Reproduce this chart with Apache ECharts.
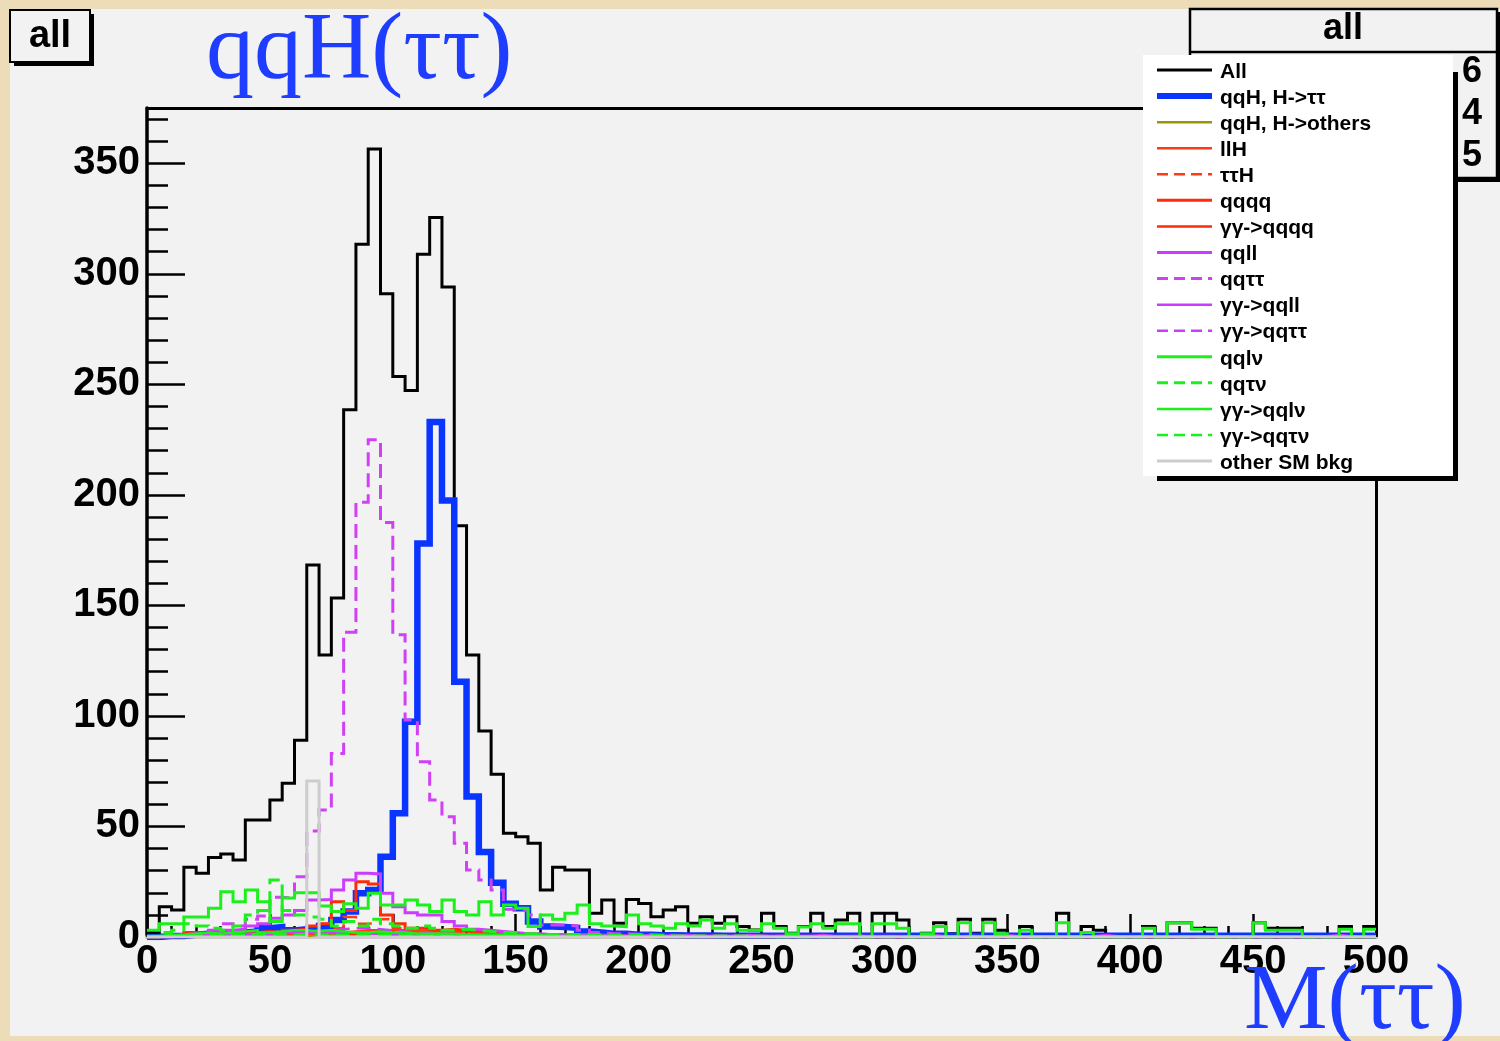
<!DOCTYPE html>
<html>
<head>
<meta charset="utf-8">
<title>qqH(ττ) M(ττ)</title>
<script src="https://cdn.jsdelivr.net/npm/echarts@6/dist/echarts.min.js"></script>
<style>
  html, body { margin: 0; padding: 0; background: #ecdcb8; }
  #chart { width: 1500px; height: 1041px; }
</style>
</head>
<body>
<div id="chart"></div>
<script>
// M(tau tau) histograms, 100 bins of 5 GeV from 0 to 500
const BIN_WIDTH = 5;
const X_MIN = 0, X_MAX = 500;
const Y_MIN = 0, Y_MAX = 375;

const allEvents = [
  2, 13.7, 12.2, 31.5, 28.8, 36, 37.5, 34.8, 52.9, 52.9,
  62, 69.5, 89, 168.3, 127.6, 153.3, 238.5, 313.4, 356.4, 291,
  253.5, 247.2, 308.9, 325.5, 294, 186, 127.6, 93.2, 73.6, 46.9,
  45.4, 42.4, 21.3, 31.5, 30.3, 30.3, 10.7, 16.7, 6.2, 17,
  15.2, 9.2, 12.2, 13.7, 6.2, 9.2, 6.2, 9.2, 4.7, 3.2,
  10.7, 4.7, 1.7, 4.7, 10.7, 4.7, 7.7, 10.7, 0, 10.7,
  10.7, 7.7, 0, 1.7, 6.5, 1.5, 8, 1.7, 8, 3,
  0, 4.7, 0, 0, 10.7, 0, 4.7, 3, 0, 0,
  0, 4.7, 0, 6.5, 6.5, 4, 4, 0, 0, 0,
  6.5, 4, 4, 4, 0, 0, 0, 4.7, 0, 4.7
];
const qqH_tautau = [
  0, 0.5, 0.5, 1, 1.5, 1.5, 2, 2, 2.5, 4,
  4.5, 3, 3.5, 3.9, 5, 7.7, 11.5, 19.8, 21.3, 36.3,
  56, 97.4, 178, 233, 197.4, 115.5, 63.5, 38.5, 24.5, 15,
  13, 7, 4.7, 4.5, 4.2, 2.5, 2, 1.5, 1.5, 1,
  1, 0.8, 0.8, 0.7, 0.7, 0.7, 0.6, 0.6, 0.6, 0.6,
  0.6, 0.6, 0.6, 0.6, 0.6, 0.6, 0.6, 0.6, 0.6, 0.6,
  0.6, 0.6, 0.6, 0.6, 0.6, 0.6, 0.6, 0.6, 0.6, 0.6,
  0.6, 0.6, 0.6, 0.6, 0.6, 0.6, 0.6, 0.6, 0.6, 0.6,
  0.6, 0.6, 0.6, 0.6, 0.6, 0.6, 0.6, 0.6, 0.6, 0.6,
  0.6, 0.6, 0.6, 0.6, 0.6, 0.6, 0.6, 0.6, 0.6, 0.6
];
const qqH_others = [
  0, 0, 0, 0, 0, 0, 0, 0, 1.8, 1,
  1.8, 1.5, 0.5, 1, 1, 1, 1, 1.5, 1.5, 1.5,
  1.5, 2, 2, 2, 1.5, 1, 1, 0.5, 0.5, 0.3,
  0, 0, 0, 0, 0, 0, 0, 0, 0, 0,
  0, 0, 0, 0, 0, 0, 0, 0, 0, 0,
  0, 0, 0, 0, 0, 0, 0, 0, 0, 0,
  0, 0, 0, 0, 0, 0, 0, 0, 0, 0,
  0, 0, 0, 0, 0, 0, 0, 0, 0, 0,
  0, 0, 0, 0, 0, 0, 0, 0, 0, 0,
  0, 0, 0, 0, 0, 0, 0, 0, 0, 0
];
const llH = [
  0, 0, 0, 0.3, 0.3, 0.5, 0.5, 0.5, 0.8, 0.8,
  1, 1, 1.5, 1.5, 2, 2, 2.5, 3, 3, 3,
  3, 2.5, 3, 3, 2.5, 2.5, 2, 2, 1.5, 1.5,
  1, 1, 1, 0.8, 0.8, 0.5, 0.5, 0.5, 0.3, 0.3,
  0, 0, 0, 0, 0, 0, 0, 0, 0, 0,
  0, 0, 0, 0, 0, 0, 0, 0, 0, 0,
  0, 0, 0, 0, 0, 0, 0, 0, 0, 0,
  0, 0, 0, 0, 0, 0, 0, 0, 0, 0,
  0, 0, 0, 0, 0, 0, 0, 0, 0, 0,
  0, 0, 0, 0, 0, 0, 0, 0, 0, 0
];
const tautauH = [
  0, 0, 0.5, 0.5, 0.5, 1, 1, 1, 1.5, 1.5,
  2, 2, 2.5, 3, 3, 4, 9, 6, 6.5, 8,
  4, 4, 3, 3, 2.5, 2, 2, 1.5, 1.5, 1,
  1, 1, 0.8, 0.8, 0.5, 0.5, 0.5, 0.5, 0.3, 0.3,
  0, 0, 0, 0, 0, 0, 0, 0, 0, 0,
  0, 0, 0, 0, 0, 0, 0, 0, 0, 0,
  0, 0, 0, 0, 0, 0, 0, 0, 0, 0,
  0, 0, 0, 0, 0, 0, 0, 0, 0, 0,
  0, 0, 0, 0, 0, 0, 0, 0, 0, 0,
  0, 0, 0, 0, 0, 0, 0, 0, 0, 0
];
const qqqq = [
  0, 0.5, 1, 2, 1.5, 1, 2, 1.5, 2, 2.5,
  2, 3, 3.5, 5, 6, 16, 12, 25, 24, 10,
  6, 4, 4, 3, 3.5, 3, 2.5, 2, 2, 1.5,
  1.5, 1, 1, 1, 0.8, 0.8, 0.5, 0.5, 0.5, 0.5,
  0.3, 0.3, 0.3, 0.3, 0.3, 0.3, 0.3, 0.3, 0.3, 0.3,
  0.3, 0.3, 0.3, 0.3, 0.3, 0, 0, 0, 0, 0,
  0, 0, 0, 0, 0, 0, 0, 0, 0, 0,
  0, 0, 0, 0, 0, 0, 0, 0, 0, 0,
  0, 0, 0, 0, 0, 0, 0, 0, 0, 0,
  0, 0, 0, 0, 0, 0, 0, 0, 0, 0
];
const aa_qqqq = [
  0, 0.5, 1, 1, 1.5, 1.5, 1, 1.5, 2, 2,
  2, 2.5, 2, 2, 2, 1.5, 1.5, 1.5, 1.5, 1,
  1, 1, 1, 0.8, 0.8, 0.5, 0.5, 0.5, 0.5, 0.3,
  0, 0, 0, 0, 0, 0, 0, 0, 0, 0,
  0, 0, 0, 0, 0, 0, 0, 0, 0, 0,
  0, 0, 0, 0, 0, 0, 0, 0, 0, 0,
  0, 0, 0, 0, 0, 0, 0, 0, 0, 0,
  0, 0, 0, 0, 0, 0, 0, 0, 0, 0,
  0, 0, 0, 0, 0, 0, 0, 0, 0, 0,
  0, 0, 0, 0, 0, 0, 0, 0, 0, 0
];
const qqll = [
  0, 0, 0.5, 1, 1.5, 2, 3, 3.5, 5, 6,
  8.5, 10, 12, 16.7, 17, 21.3, 25.8, 28.8, 28.5, 19.8,
  13.7, 11, 10, 10, 7, 5, 3.5, 3, 2.5, 2,
  1.5, 1.5, 1, 1, 1, 1, 0.8, 0.8, 0.5, 0.5,
  0.8, 0.5, 0.5, 0.8, 0.5, 0.3, 0.5, 0.3, 0.8, 0.5,
  0.3, 0.5, 0.3, 0.3, 0.8, 0.3, 0.3, 0.5, 0.3, 0.3,
  0.3, 0.2, 0.3, 0.8, 0.2, 0.2, 0.3, 0.2, 0.2, 0.8,
  0.2, 0.2, 0.2, 0.2, 0.2, 0.2, 0.2, 0.8, 0.2, 0.2,
  0.2, 0.2, 0.2, 0.2, 0.2, 0.2, 0.2, 0.2, 0.2, 0.2,
  0.2, 0.2, 0.2, 0.2, 0.2, 0.2, 0.8, 0.2, 0.2, 0.2
];
const qqtautau = [
  0, 0.5, 1, 1.5, 2, 3, 6, 5, 8, 9.5,
  18, 17.6, 27.3, 48, 57.5, 83, 137.9, 196.7, 224.9, 187.5,
  136.7, 98.2, 79.3, 62, 54.4, 42.4, 30.3, 25.8, 21.3, 12.5,
  12, 10, 5.4, 5.4, 5, 3, 2, 1.5, 1.5, 1.2,
  1, 0.8, 0.8, 0.6, 0.5, 0.5, 0.5, 0.4, 0.3, 0.3,
  0.3, 0.2, 0, 0.3, 0, 0, 0.2, 0, 0, 0,
  0, 0, 0, 0, 0, 0, 0, 0, 0, 0,
  0, 0, 0, 0, 0, 0, 0, 0, 0, 0,
  0, 0, 0, 0, 0, 0, 0, 0, 0, 0,
  0, 0, 0, 0, 0, 0, 0, 0, 0, 0
];
const aa_qqll = [
  0, 0.3, 0.5, 0.5, 1, 1, 1, 1.5, 1.5, 1.5,
  2, 2, 2, 2, 2, 2, 2, 1.5, 1.5, 1.5,
  1, 1, 1, 0.8, 0.8, 0.5, 0.5, 0.5, 0.3, 0.3,
  0.3, 0.3, 0.3, 0.3, 0.3, 0.3, 0.3, 0.3, 0.3, 0.3,
  0, 0, 0, 0, 0, 0, 0, 0, 0, 0,
  0, 0, 0, 0, 0, 0, 0, 0, 0, 0,
  0, 0, 0, 0, 0, 0, 0, 0, 0, 0,
  0, 0, 0, 0, 0, 0, 0, 0, 0, 0,
  0, 0, 0, 0, 0, 0, 0, 0, 0, 0,
  0, 0, 0, 0, 0, 0, 0, 0, 0, 0
];
const aa_qqtautau = [
  0, 0, 0.3, 0.5, 0.5, 0.5, 1, 1, 1, 1.5,
  1.5, 2, 2, 2.5, 3, 3.5, 4, 4, 3.5, 3,
  2.5, 2, 2, 1.5, 1.5, 1, 1, 0.8, 0.5, 0.5,
  0.3, 0.3, 0.3, 0.3, 0.3, 0.3, 0.3, 0.3, 0.3, 0.3,
  0, 0, 0, 0, 0, 0, 0, 0, 0, 0,
  0, 0, 0, 0, 0, 0, 0, 0, 0, 0,
  0, 0, 0, 0, 0, 0, 0, 0, 0, 0,
  0, 0, 0, 0, 0, 0, 0, 0, 0, 0,
  0, 0, 0, 0, 0, 0, 0, 0, 0, 0,
  0, 0, 0, 0, 0, 0, 0, 0, 0, 0
];
const qqlv = [
  3, 6, 6, 9, 9, 13, 20.5, 16, 21.3, 16,
  7, 17.6, 20, 20, 14, 11.5, 15, 13, 19.8, 14.5,
  14.5, 16.7, 14.5, 11.5, 16.7, 11.5, 10, 16, 10, 14.5,
  13, 4.7, 10, 8, 10.7, 14.5, 6, 5, 4.7, 10,
  6, 5, 4, 6, 5, 7.7, 4, 6, 3, 3,
  6, 4, 1.5, 4.5, 6, 4, 6, 6, 0, 6,
  6, 4, 0, 1.5, 4.7, 0, 6.5, 0, 6.5, 1.5,
  0, 3, 0, 0, 6.5, 0, 2, 0, 0, 0,
  0, 4, 0, 6.5, 6.5, 3.5, 3.5, 0, 0, 0,
  6.5, 3, 3, 3, 0, 0, 0, 3.5, 0, 3.5
];
const qqtauv = [
  0, 2, 3, 6, 5, 4, 3, 5, 10, 12,
  25.8, 12, 10, 9, 8, 5, 7, 5, 8, 6,
  5, 4, 5, 4, 3, 3.5, 3, 2.5, 2, 2,
  1.5, 1.5, 1, 1, 1, 1, 1, 0.8, 0.8, 1,
  0.8, 0.8, 0.5, 0.5, 0.5, 0.5, 0.5, 0.5, 0.5, 0.3,
  0, 0, 0, 0, 0, 0, 0, 0, 0, 0,
  0, 0, 0, 0, 0, 0, 0, 0, 0, 0,
  0, 0, 0, 0, 0, 0, 0, 0, 0, 0,
  0, 0, 0, 0, 0, 0, 0, 0, 0, 0,
  0, 0, 0, 0, 0, 0, 0, 0, 0, 0
];
const aa_qqlv = [
  0.5, 1, 1, 1.5, 2, 1.5, 2, 2.5, 3, 2,
  2.5, 3, 3, 2.5, 3, 2.5, 2, 2, 2.5, 2,
  2, 1.5, 1.5, 1.5, 1.5, 1, 1, 1, 1, 0.8,
  0.8, 0.8, 0.5, 0.5, 0.5, 0.5, 0.5, 0.5, 0.3, 0.3,
  0, 0, 0, 0, 0, 0, 0, 0, 0, 0,
  0, 0, 0, 0, 0, 0, 0, 0, 0, 0,
  0, 0, 0, 0, 0, 0, 0, 0, 0, 0,
  0, 0, 0, 0, 0, 0, 0, 0, 0, 0,
  0, 0, 0, 0, 0, 0, 0, 0, 0, 0,
  0, 0, 0, 0, 0, 0, 0, 0, 0, 0
];
const aa_qqtauv = [
  0, 0.5, 0.5, 0.5, 1, 1, 1, 1, 1.5, 1,
  1.5, 1, 1.5, 1, 1, 1, 1, 1, 1, 1,
  0.8, 0.8, 0.5, 0.5, 0.5, 0.5, 0.5, 0.3, 0.3, 0.3,
  0, 0, 0, 0, 0, 0, 0, 0, 0, 0,
  0, 0, 0, 0, 0, 0, 0, 0, 0, 0,
  0, 0, 0, 0, 0, 0, 0, 0, 0, 0,
  0, 0, 0, 0, 0, 0, 0, 0, 0, 0,
  0, 0, 0, 0, 0, 0, 0, 0, 0, 0,
  0, 0, 0, 0, 0, 0, 0, 0, 0, 0,
  0, 0, 0, 0, 0, 0, 0, 0, 0, 0
];
const otherSM = [
  0, 0, 0, 0, 0, 0, 0, 0, 0, 0,
  0, 0, 0, 70.6, 0, 0, 0, 0, 0, 0,
  0, 0, 0, 0, 0, 0, 0, 0, 0, 0,
  0, 0, 0, 0, 0, 0, 0, 0, 0, 0,
  0, 0, 0, 0, 0, 0, 0, 0, 0, 0,
  0, 0, 0, 0, 0, 0, 0, 0, 0, 0,
  0, 0, 0, 0, 0, 0, 0, 0, 0, 0,
  0, 0, 0, 0, 0, 0, 0, 0, 0, 0,
  0, 0, 0, 0, 0, 0, 0, 0, 0, 0,
  0, 0, 0, 0, 0, 0, 0, 0, 0, 0
];

const xTickValues = [0, 50, 100, 150, 200, 250, 300, 350, 400, 450, 500];
const yTickValues = [0, 50, 100, 150, 200, 250, 300, 350];

// Legend entries, also the drawing order (later entries are drawn on top)
const legendEntries = [
  { name: 'All',              values: allEvents,   color: '#000000', width: 3,   dashed: false },
  { name: 'qqH, H->ττ',       values: qqH_tautau,  color: '#0a34ff', width: 6.5, dashed: false },
  { name: 'qqH, H->others',   values: qqH_others,  color: '#9c9606', width: 2.5, dashed: false },
  { name: 'llH',              values: llH,         color: '#ff3a14', width: 2.5, dashed: false },
  { name: 'ττH',              values: tautauH,     color: '#ff3a14', width: 2.5, dashed: true },
  { name: 'qqqq',             values: qqqq,        color: '#ff2a0a', width: 3,   dashed: false },
  { name: 'γγ->qqqq',         values: aa_qqqq,     color: '#ff2a0a', width: 2.5, dashed: false },
  { name: 'qqll',             values: qqll,        color: '#cc3cff', width: 3,   dashed: false },
  { name: 'qqττ',             values: qqtautau,    color: '#d040f4', width: 3,   dashed: true },
  { name: 'γγ->qqll',         values: aa_qqll,     color: '#cc3cff', width: 2.5, dashed: false },
  { name: 'γγ->qqττ',         values: aa_qqtautau, color: '#cc3cff', width: 2.5, dashed: true },
  { name: 'qqlν',             values: qqlv,        color: '#1cf01c', width: 3,   dashed: false },
  { name: 'qqτν',             values: qqtauv,      color: '#1cf01c', width: 3,   dashed: true },
  { name: 'γγ->qqlν',         values: aa_qqlv,     color: '#1cf01c', width: 2.5, dashed: false },
  { name: 'γγ->qqτν',         values: aa_qqtauv,   color: '#1cf01c', width: 2.5, dashed: true },
  { name: 'other SM bkg',     values: otherSM,     color: '#cdcdcd', width: 3,   dashed: false }
];

const DASH = [14, 7];
const LABEL_FONT = 'Liberation Sans';

function stepData(values) {
  const pts = values.map((v, i) => [X_MIN + i * BIN_WIDTH, v]);
  pts.push([X_MAX, values[values.length - 1]]);
  return pts;
}

const series = legendEntries.map(e => ({
  name: e.name,
  type: 'line',
  step: 'end',
  symbol: 'none',
  silent: true,
  xAxisIndex: 0,
  yAxisIndex: 0,
  data: stepData(e.values),
  lineStyle: { color: e.color, width: e.width, type: e.dashed ? DASH : 'solid', cap: 'butt', join: 'miter' }
}));

// ---- Decorations: pave boxes, legend, titles ----
const graphics = [];

// canvas pad
graphics.push({ type: 'rect', z: -100, silent: true,
  shape: { x: 10, y: 9, width: 1490, height: 1027 }, style: { fill: '#f2f2f2' } });

// top-left title pave "all"
graphics.push({ type: 'rect', z: 50, shape: { x: 14, y: 14, width: 80, height: 52 }, style: { fill: '#000' } });
graphics.push({ type: 'rect', z: 51, shape: { x: 10, y: 10, width: 80, height: 52 },
  style: { fill: '#f2f2f2', stroke: '#000', lineWidth: 2 } });
graphics.push({ type: 'text', z: 52, style: { x: 50, y: 37, text: 'all', font: `bold 38px "${LABEL_FONT}"`,
  fill: '#000', textAlign: 'center', textVerticalAlign: 'middle' } });

// statistics pave (top right)
graphics.push({ type: 'rect', z: 50, shape: { x: 1194, y: 12, width: 306, height: 170 }, style: { fill: '#000' } });
graphics.push({ type: 'rect', z: 51, shape: { x: 1190, y: 9, width: 307, height: 169 },
  style: { fill: '#f2f2f2', stroke: '#000', lineWidth: 2.5 } });
graphics.push({ type: 'line', z: 52, shape: { x1: 1190, y1: 52, x2: 1497, y2: 52 }, style: { stroke: '#000', lineWidth: 2.5 } });
graphics.push({ type: 'text', z: 52, style: { x: 1343, y: 29, text: 'all', font: `bold 36px "${LABEL_FONT}"`,
  fill: '#000', textAlign: 'center', textVerticalAlign: 'middle' } });
const statsTail = ['6', '4', '5'];
statsTail.forEach((t, i) => {
  graphics.push({ type: 'text', z: 52, style: { x: 1482, y: 72 + i * 42, text: t, font: `bold 36px "${LABEL_FONT}"`,
    fill: '#000', textAlign: 'right', textVerticalAlign: 'middle' } });
});

// legend pave with a thin drop shadow on the right and bottom
const LEG_X = 1143, LEG_Y = 55, LEG_W = 310, LEG_H = 421, LEG_SHADOW = 5;
graphics.push({ type: 'rect', z: 60,
  shape: { x: LEG_X + 14, y: LEG_Y + 17, width: LEG_W - 14 + LEG_SHADOW, height: LEG_H - 17 + LEG_SHADOW },
  style: { fill: '#000' } });
graphics.push({ type: 'rect', z: 61, shape: { x: LEG_X, y: LEG_Y, width: LEG_W, height: LEG_H }, style: { fill: '#ffffff' } });
const LEG_ROW0 = 70, LEG_ROW_STEP = 26.07;
legendEntries.forEach((e, i) => {
  const y = LEG_ROW0 + i * LEG_ROW_STEP;
  graphics.push({ type: 'line', z: 62, shape: { x1: 1157, y1: y, x2: 1212, y2: y },
    style: { stroke: e.color, lineWidth: Math.min(e.width, 6), lineDash: e.dashed ? [11, 6] : null } });
  graphics.push({ type: 'text', z: 62, style: { x: 1220, y: y + 2, text: e.name, font: `bold 21px "${LABEL_FONT}"`,
    fill: '#000', textAlign: 'left', textVerticalAlign: 'middle' } });
});

// blue annotations
graphics.push({ type: 'text', z: 70, style: { x: 206, y: 101, text: 'qqH(ττ)', font: '96px "Liberation Serif"',
  fill: '#1f3dff', textAlign: 'left', textVerticalAlign: 'bottom' } });
graphics.push({ type: 'text', z: 70, style: { x: 1244, y: 1050, text: 'M(ττ)', font: '94px "Liberation Serif"',
  fill: '#1f3dff', textAlign: 'left', textVerticalAlign: 'bottom' } });

const GRID = { left: 147, top: 108, width: 1229, height: 829 };

const option = {
  animation: false,
  backgroundColor: '#ecdcb8',
  grid: { left: GRID.left, top: GRID.top, width: GRID.width, height: GRID.height, containLabel: false, show: false },
  xAxis: [
    {
      type: 'value', position: 'bottom', min: X_MIN, max: X_MAX, interval: xTickValues[1] - xTickValues[0],
      axisLine: { show: true, onZero: false, lineStyle: { color: '#cbcbcb', width: 4 } },
      axisTick: { show: true, inside: true, length: 23, lineStyle: { color: '#000', width: 2.5 } },
      minorTick: { show: true, splitNumber: 5, length: 11, lineStyle: { color: '#000', width: 2.5 } },
      axisLabel: { show: true, margin: 5, color: '#000', fontSize: 40, fontWeight: 'bold', fontFamily: LABEL_FONT,
        formatter: v => xTickValues.includes(v) ? String(v) : '' },
      splitLine: { show: false }, minorSplitLine: { show: false }
    },
    {
      type: 'value', position: 'top', min: X_MIN, max: X_MAX,
      axisLine: { show: true, onZero: false, lineStyle: { color: '#000', width: 3 } },
      axisTick: { show: false }, axisLabel: { show: false }, splitLine: { show: false }
    }
  ],
  yAxis: [
    {
      type: 'value', position: 'left', min: Y_MIN, max: Y_MAX, interval: yTickValues[1] - yTickValues[0],
      axisLine: { show: true, onZero: false, lineStyle: { color: '#000', width: 3.5 } },
      axisTick: { show: true, inside: true, length: 38, lineStyle: { color: '#000', width: 2.5 } },
      axisLabel: { show: true, margin: 7, color: '#000', fontSize: 40, fontWeight: 'bold', fontFamily: LABEL_FONT,
        showMaxLabel: false, formatter: v => yTickValues.includes(v) ? String(v) : '' },
      splitLine: { show: false }
    },
    {
      // secondary (10-unit) ticks
      type: 'value', position: 'left', min: Y_MIN, max: Y_MAX, interval: 10,
      axisLine: { show: false },
      axisTick: { show: true, inside: true, length: 21, lineStyle: { color: '#000', width: 2.5 } },
      axisLabel: { show: false }, splitLine: { show: false }
    },
    {
      type: 'value', position: 'right', min: Y_MIN, max: Y_MAX,
      axisLine: { show: true, onZero: false, lineStyle: { color: '#000', width: 3 } },
      axisTick: { show: false }, axisLabel: { show: false }, splitLine: { show: false }
    }
  ],
  series: series,
  graphic: { elements: graphics }
};

const chart = echarts.init(document.getElementById('chart'), null, { renderer: 'canvas' });
chart.setOption(option);
</script>
</body>
</html>
